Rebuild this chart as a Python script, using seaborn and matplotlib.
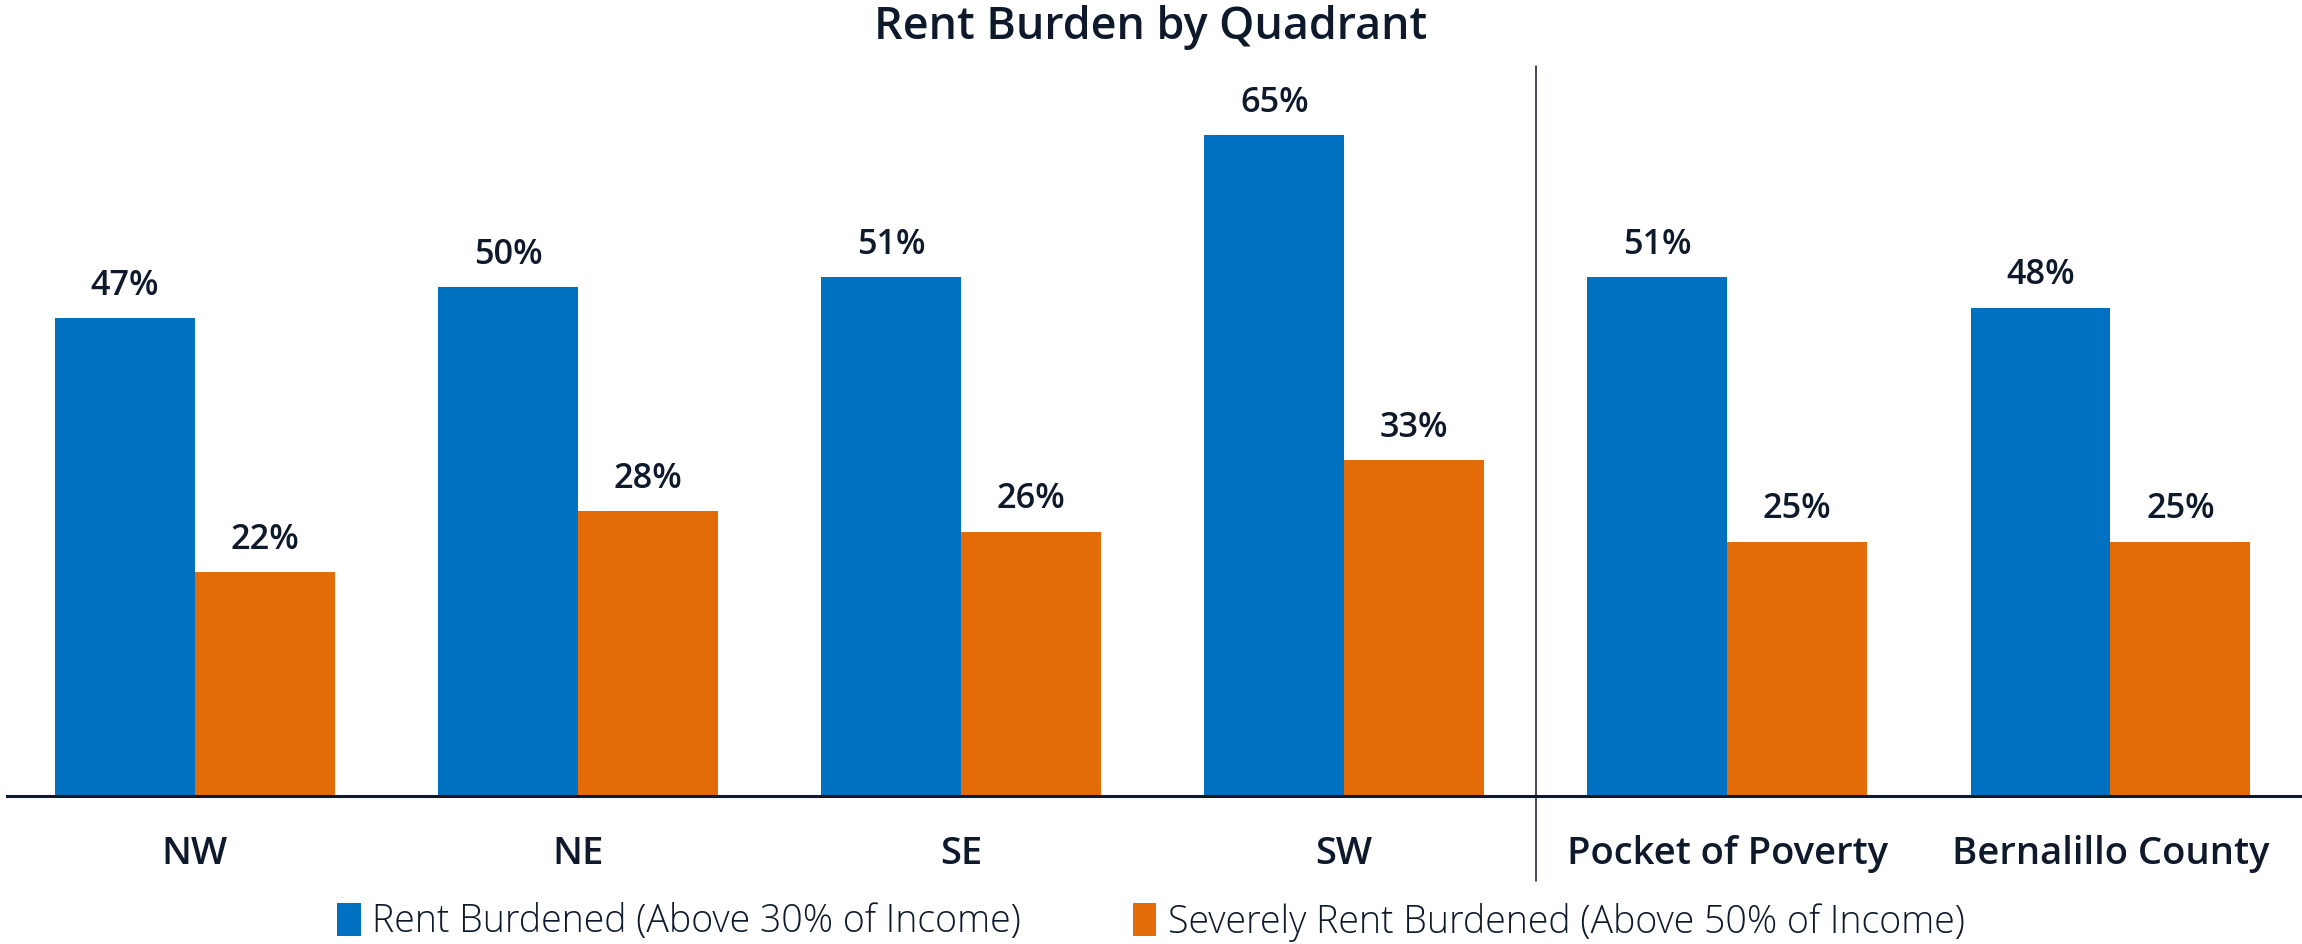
import pandas as pd
import matplotlib.pyplot as plt
import seaborn as sns

# chart data
categories = ['NW', 'NE', 'SE', 'SW', 'Pocket of Poverty', 'Bernalillo County']
rent_burdened = [47, 50, 51, 65, 51, 48]
severely_burdened = [22, 28, 26, 33, 25, 25]
series_names = ['Rent Burdened (Above 30% of Income)',
                'Severely Rent Burdened (Above 50% of Income)']

BLUE = '#0070C0'
ORANGE = '#E36C09'
INK = '#0E1A2B'

df = pd.DataFrame({
    'area': categories * 2,
    'value': rent_burdened + severely_burdened,
    'series': [series_names[0]] * len(categories) + [series_names[1]] * len(categories),
})

sns.set_style('white')
plt.rcParams['font.family'] = ['Open Sans', 'DejaVu Sans']
plt.rcParams['text.color'] = INK

fig = plt.figure(figsize=(23.02, 9.44), dpi=100)
ax = fig.add_axes([0.003, 148 / 944, 0.997, 712 / 944])

sns.barplot(data=df, x='area', y='value', hue='series', hue_order=series_names,
            palette=[BLUE, ORANGE], width=0.73, gap=0, saturation=1,
            edgecolor='none', ax=ax)

for cont in ax.containers:
    ax.bar_label(cont, labels=[f'{v:.0f}%' for v in cont.datavalues],
                 padding=11, fontsize=24.7, fontweight='semibold', color=INK)

ax.set_xlim(-0.49, len(categories) - 0.5)
ax.set_ylim(0, 70)
ax.set_yticks([])
ax.set_xlabel('')
ax.set_ylabel('')
ax.tick_params(axis='x', length=0, pad=28, labelsize=27.5, colors=INK)
for lab in ax.get_xticklabels():
    lab.set_fontweight('semibold')

for side in ['top', 'right', 'left']:
    ax.spines[side].set_visible(False)
ax.spines['bottom'].set_color(INK)
ax.spines['bottom'].set_linewidth(2.2)

# divider between quadrants and comparison areas
ax.axvline(3.5, ymin=-0.119, ymax=1.025, color=INK, linewidth=1.1, clip_on=False)

ax.legend(loc='center', bbox_to_anchor=(0.5, 22 / 944), bbox_transform=fig.transFigure,
          ncol=2, frameon=False, prop={'size': 27, 'weight': 'light'},
          handlelength=0.62, handleheight=1.0, handletextpad=0.3, columnspacing=3.0)

fig.suptitle('Rent Burden by Quadrant', x=0.5, y=0.995, va='top',
             fontsize=32.3, fontweight='semibold', color=INK)

fig.savefig('out.png', dpi=100)
